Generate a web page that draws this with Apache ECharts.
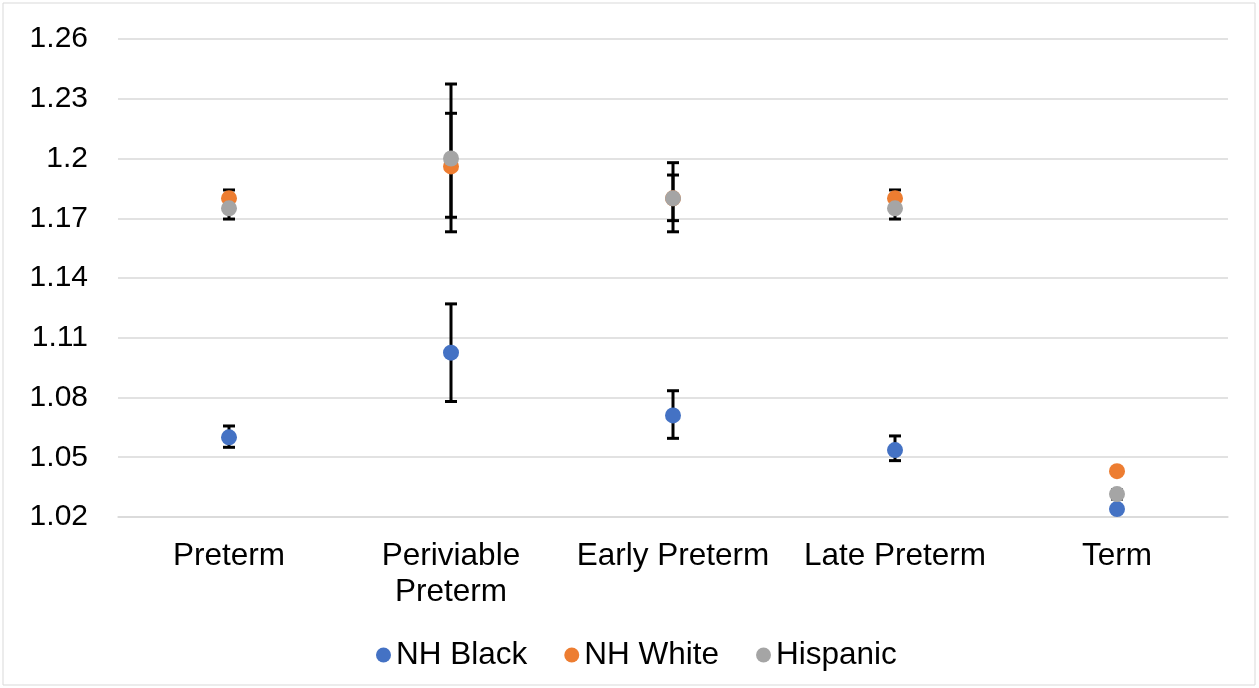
<!DOCTYPE html>
<html><head><meta charset="utf-8">
<script src="https://cdn.jsdelivr.net/npm/echarts@6/dist/echarts.min.js"></script>
<style>html,body{margin:0;padding:0;background:#fff}#c{width:1259px;height:688px}</style>
</head><body><div id="c"></div>
<script>
const categories = ['Preterm', 'Periviable\nPreterm', 'Early Preterm', 'Late Preterm', 'Term'];
const seriesNames = ['NH Black', 'NH White', 'Hispanic'];
const nhBlack = [1.060, 1.1025, 1.071, 1.0536, 1.024];
const nhWhite = [1.180, 1.196, 1.180, 1.180, 1.043];
const hispanic = [1.175, 1.200, 1.180, 1.175, 1.0315];
const nhBlackLow = [1.055, 1.078, 1.0595, 1.0483, 1.023];
const nhBlackHigh = [1.0657, 1.127, 1.0834, 1.0607, 1.025];
const nhWhiteLow = [1.1765, 1.1705, 1.1688, 1.1765, 1.043];
const nhWhiteHigh = [1.1842, 1.2227, 1.1917, 1.1842, 1.043];
const hispanicLow = [1.1696, 1.1632, 1.1632, 1.1696, 1.029];
const hispanicHigh = [1.1805, 1.2374, 1.1979, 1.1805, 1.0336];
const yTicks = {min: 1.02, max: 1.26, interval: 0.03};
const colors = ['#4472C4', '#ED7D31', '#A5A5A5'];

const chart = echarts.init(document.getElementById('c'));
function errData(lo, hi) { return lo.map((l, i) => [i, l, hi[i]]); }
function errSeries(lo, hi) {
  return {
    type: 'custom', silent: true, z: 2,
    data: errData(lo, hi),
    encode: {x: 0, y: [1, 2]},
    renderItem: function (params, api) {
      const x = api.value(0);
      const p1 = api.coord([x, api.value(1)]);
      const p2 = api.coord([x, api.value(2)]);
      const w = 6;
      const st = {stroke: '#000', lineWidth: 3};
      return {type: 'group', children: [
        {type: 'line', shape: {x1: p1[0], y1: p1[1], x2: p2[0], y2: p2[1]}, style: st},
        {type: 'line', shape: {x1: p1[0] - w, y1: p1[1], x2: p1[0] + w, y2: p1[1]}, style: st},
        {type: 'line', shape: {x1: p2[0] - w, y1: p2[1], x2: p2[0] + w, y2: p2[1]}, style: st}
      ]};
    }
  };
}
function scatter(name, data, color) {
  return {name: name, type: 'scatter', data: data, symbol: 'circle', symbolSize: 16, z: 5,
    itemStyle: {color: color, opacity: 1}};
}
const fam = 'Liberation Sans, Arial, sans-serif';
chart.setOption({
  animation: false,
  color: colors,
  graphic: [{type: 'rect', shape: {x: 3, y: 3, width: 1252, height: 682},
    style: {fill: 'none', stroke: '#d9d9d9', lineWidth: 1}, z: -1}],
  grid: {left: 118, right: 31, top: 39, bottom: 171},
  legend: {
    data: seriesNames, left: 371, top: 634, itemWidth: 15, itemHeight: 15, itemGap: 37,
    icon: 'circle',
    textStyle: {fontFamily: fam, fontSize: 31.5, color: '#000'}
  },
  xAxis: {
    type: 'category', data: categories,
    axisLine: {show: true, lineStyle: {color: '#d9d9d9', width: 1.5}},
    axisTick: {show: false},
    axisLabel: {fontFamily: fam, fontSize: 31.5, color: '#000', margin: 21, lineHeight: 36, interval: 0}
  },
  yAxis: {
    type: 'value', min: yTicks.min, max: yTicks.max, interval: yTicks.interval,
    axisLine: {show: false}, axisTick: {show: false},
    splitLine: {lineStyle: {color: '#d9d9d9', width: 1.5}},
    axisLabel: {fontFamily: fam, fontSize: 30, color: '#000', margin: 30,
      formatter: v => String(+v.toFixed(2))}
  },
  series: [
    errSeries(nhBlackLow, nhBlackHigh),
    errSeries(nhWhiteLow, nhWhiteHigh),
    errSeries(hispanicLow, hispanicHigh),
    scatter(seriesNames[0], nhBlack, colors[0]),
    scatter(seriesNames[1], nhWhite, colors[1]),
    scatter(seriesNames[2], hispanic, colors[2])
  ]
});
</script></body></html>
